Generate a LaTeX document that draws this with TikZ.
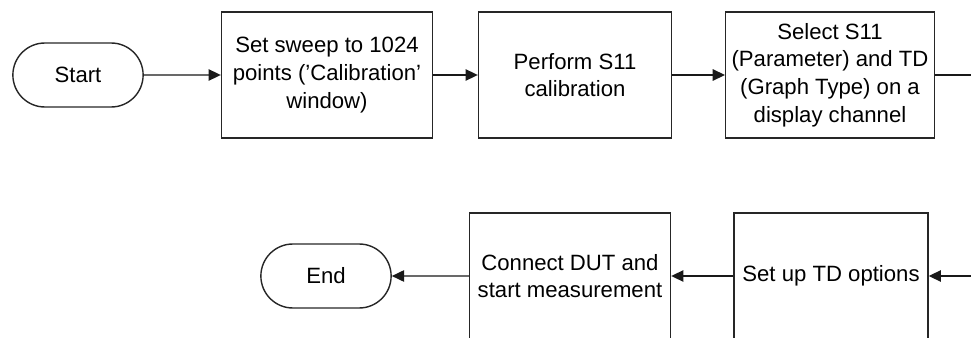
\documentclass[tikz,border=0pt]{standalone}
\usepackage{fontspec}
\setmainfont{Liberation Sans}
\usepackage{tikz}
\usetikzlibrary{
  shapes.misc,
  arrows.meta
}

\begin{document}
\begin{tikzpicture}[x=0.02cm,y=-0.02cm,
  terminal/.style={rounded rectangle,draw=black!85,line width=0.8pt,
                   minimum width=2.84cm,minimum height=1.28cm,
                   font=\fontsize{12.6}{15.5}\selectfont},
  stepbox/.style={rectangle,draw=black!85,line width=0.8pt,
                  minimum width=#1,minimum height=2.52cm,
                  align=center,font=\fontsize{12.6}{15.8}\selectfont},
  flow/.style={-{Triangle[length=7pt,width=6.5pt]},line width=0.8pt,color=black!90}
]
\useasboundingbox (0,0) rectangle (971,338);
\clip (0,0) rectangle (971,338);

\node[terminal] (start) at (78,75) {Start};
\node[stepbox=4.22cm] (sweep)  at (327,75) {Set sweep to 1024\\points ('Calibration'\\window)};
\node[stepbox=3.86cm] (calib)  at (575,75) {Perform S11\\calibration};
\node[stepbox=4.14cm] (select) at (830,75) {Select S11\\(Parameter) and TD\\(Graph Type) on a\\display channel};

\node[stepbox=3.88cm] (tdopt)   at (831,276) {Set up TD options};
\node[stepbox=4.02cm] (connect) at (570,276) {Connect DUT and\\start measurement};
\node[terminal] (stop) at (326,276) {End};

\draw[flow] (start) -- (sweep);
\draw[flow] (sweep) -- (calib);
\draw[flow] (calib) -- (select);
\draw[flow] (select.east) -- ++(60,0) |- (tdopt.east);
\draw[flow] (tdopt) -- (connect);
\draw[flow] (connect) -- (stop);

\end{tikzpicture}
\end{document}
